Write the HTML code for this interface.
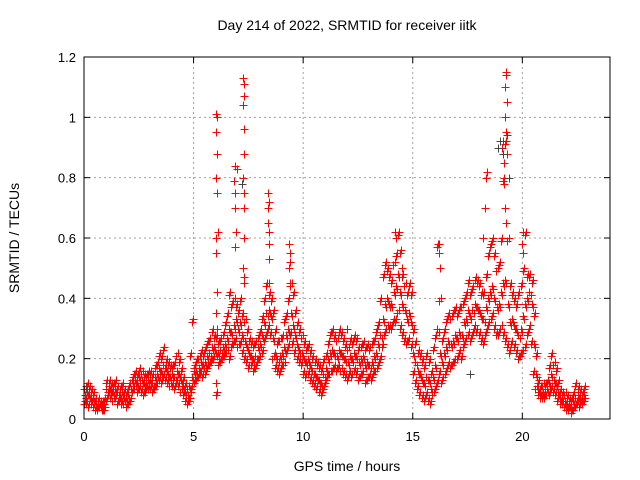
<!DOCTYPE html>
<html><head><meta charset="utf-8"><style>
body{margin:0;background:#fff;}
svg{display:block;font-family:"Liberation Sans",sans-serif;}
</style></head><body>
<svg id="chart" width="640" height="480" viewBox="0 0 640 480" xmlns="http://www.w3.org/2000/svg">
<rect width="640" height="480" fill="#fff"/>
<text x="347" y="30" font-size="14" text-anchor="middle">Day 214 of 2022, SRMTID for receiver iitk</text>
<text x="347" y="471" font-size="14" text-anchor="middle">GPS time / hours</text>
<text transform="translate(19,238) rotate(-90)" font-size="14" text-anchor="middle">SRMTID / TECUs</text>
<g id="grid"></g><g id="marks" shape-rendering="crispEdges"></g><g id="axes"></g>
</svg>
<script>
const xTicks=[0,5,10,15,20];
const yTicks=[0,0.2,0.4,0.6,0.8,1,1.2];
const yTickLabels=["0","0.2","0.4","0.6","0.8","1","1.2"];
const tStart=0, tStep=0.1;
const lo=[.05,.05,.04,.05,.04,.03,.03,.04,.03,.03,.06,.08,.07,.06,.07,.05,.06,.05,.05,.04,.05,.06,.09,.10,.09,.10,.09,.08,.09,.10,.10,.09,.10,.11,.13,.12,.14,.13,.12,.11,.11,.10,.12,.11,.09,.08,.06,.05,.06,.10,.12,.13,.14,.15,.14,.15,.17,.18,.19,.20,.08,.18,.19,.20,.21,.22,.20,.24,.25,.26,.24,.25,.22,.20,.19,.17,.18,.16,.17,.19,.20,.22,.26,.28,.30,.28,.20,.17,.16,.15,.17,.18,.22,.24,.28,.25,.22,.20,.19,.18,.15,.14,.15,.13,.12,.11,.10,.09,.08,.10,.12,.14,.15,.16,.17,.16,.17,.16,.15,.14,.13,.15,.14,.16,.15,.13,.14,.15,.12,.13,.14,.13,.15,.16,.18,.20,.24,.28,.30,.30,.30,.32,.32,.35,.30,.28,.26,.25,.26,.24,.15,.12,.10,.08,.07,.06,.08,.06,.05,.08,.10,.12,.15,.12,.14,.16,.18,.17,.18,.19,.20,.22,.20,.24,.26,.28,.26,.28,.30,.29,.28,.26,.25,.28,.30,.32,.34,.30,.28,.28,.30,.28,.26,.24,.22,.25,.24,.22,.20,.21,.22,.24,.28,.30,.25,.15,.10,.08,.07,.07,.07,.08,.08,.10,.09,.08,.06,.05,.05,.04,.03,.03,.02,.03,.04,.05,.04,.05,.06];
const mid=[.08,.09,.08,.07,.07,.05,.05,.05,.04,.05,.10,.11,.10,.09,.10,.09,.08,.09,.07,.07,.08,.10,.12,.13,.12,.14,.13,.12,.12,.13,.13,.12,.14,.15,.17,.16,.18,.17,.15,.14,.15,.14,.16,.15,.13,.11,.09,.08,.10,.14,.16,.16,.17,.19,.18,.19,.21,.22,.24,.24,.22,.22,.23,.24,.25,.27,.30,.29,.31,.33,.30,.32,.28,.26,.24,.22,.21,.20,.21,.24,.25,.28,.32,.35,.36,.34,.27,.22,.20,.21,.22,.24,.28,.30,.35,.31,.28,.25,.23,.22,.20,.19,.20,.18,.16,.15,.14,.13,.12,.15,.17,.20,.22,.23,.22,.21,.23,.22,.21,.20,.19,.21,.20,.22,.21,.19,.20,.21,.18,.19,.18,.19,.21,.22,.25,.28,.33,.38,.40,.38,.38,.42,.44,.48,.42,.38,.36,.33,.35,.32,.22,.19,.16,.15,.13,.12,.14,.13,.10,.14,.18,.30,.22,.19,.22,.24,.26,.25,.26,.28,.27,.29,.28,.32,.33,.36,.34,.36,.38,.37,.36,.34,.33,.37,.40,.42,.44,.40,.37,.38,.42,.45,.46,.38,.32,.33,.31,.30,.28,.30,.34,.38,.40,.42,.38,.25,.15,.10,.09,.09,.09,.10,.12,.15,.13,.12,.09,.07,.07,.06,.05,.05,.04,.06,.07,.08,.07,.07,.08];
const hi=[.11,.12,.11,.10,.09,.07,.07,.06,.06,.07,.13,.13,.12,.12,.13,.11,.11,.12,.10,.09,.11,.13,.15,.16,.15,.17,.16,.15,.15,.16,.16,.15,.18,.19,.22,.21,.24,.20,.19,.18,.18,.19,.22,.20,.17,.14,.12,.11,.22,.33,.18,.20,.21,.23,.22,.24,.26,.27,.30,.28,.28,.26,.27,.29,.32,.35,.42,.38,.40,.38,.36,.40,.35,.33,.30,.27,.26,.25,.26,.28,.30,.34,.40,.45,.42,.40,.36,.30,.26,.27,.28,.33,.35,.40,.45,.42,.36,.32,.30,.28,.26,.24,.25,.23,.21,.20,.19,.18,.17,.20,.22,.26,.29,.30,.28,.27,.30,.29,.27,.25,.24,.27,.26,.28,.27,.24,.25,.26,.24,.25,.24,.26,.27,.30,.32,.40,.48,.52,.50,.48,.46,.52,.55,.62,.56,.48,.45,.42,.45,.42,.30,.26,.23,.22,.20,.18,.22,.20,.16,.24,.28,.58,.40,.27,.30,.33,.35,.34,.36,.37,.35,.37,.38,.40,.42,.46,.42,.44,.47,.46,.45,.42,.42,.48,.55,.58,.60,.55,.50,.52,.60,.80,.92,.60,.45,.42,.40,.38,.42,.45,.50,.62,.48,.48,.46,.35,.22,.13,.11,.12,.12,.13,.18,.22,.19,.17,.13,.10,.09,.09,.08,.07,.07,.09,.12,.11,.10,.09,.11];
const spikeT=[6.0,6.05,6.02,6.08,6.0,6.05,6.03,6.1,6.0,6.05,6.0,6.07,6.0,6.02,6.9,6.85,6.88,6.9,6.95,6.9,7.0,7.25,7.3,7.28,7.27,7.3,7.3,7.25,7.3,7.28,7.3,7.26,7.3,7.3,8.4,8.42,8.38,8.4,8.45,8.42,8.45,8.45,9.35,9.38,9.4,9.35,9.4,14.2,14.25,14.5,16.2,16.22,16.25,18.3,18.35,18.4,18.2,19.05,19.1,19.15,19.25,19.27,19.22,19.3,19.2,19.25,19.3,19.15,19.2,19.25,20.05,20.0,20.05];
const spikeV=[1.01,1.0,0.95,0.88,0.8,0.75,0.6,0.62,0.55,0.42,0.35,0.3,0.12,0.08,0.84,0.79,0.75,0.7,0.62,0.57,0.83,1.13,1.11,1.07,1.04,0.96,0.88,0.8,0.75,0.7,0.6,0.5,0.47,0.45,0.75,0.72,0.7,0.65,0.62,0.58,0.53,0.45,0.58,0.55,0.52,0.5,0.45,0.62,0.6,0.5,0.58,0.55,0.5,0.7,0.8,0.82,0.6,0.9,0.92,0.85,1.15,1.14,1.1,1.05,1.0,0.95,0.88,0.78,0.7,0.65,0.62,0.58,0.55];
const blackT=[0.1,18.9,19.0,19.1,19.3,19.4,7.2,12.0,17.6];
const blackV=[0.1,0.9,0.92,0.88,0.94,0.8,0.78,0.3,0.15];

const L=84,R=610,T=57,B=419;
const xS=t=>L+t/24*(R-L);
const yS=v=>B-v/1.2*(B-T);
const NS="http://www.w3.org/2000/svg";
function mk(tag,attrs,parent){const e=document.createElementNS(NS,tag);for(const k in attrs)e.setAttribute(k,attrs[k]);parent.appendChild(e);return e;}
const grid=document.getElementById('grid'),marks=document.getElementById('marks'),axes=document.getElementById('axes');
xTicks.forEach((t,i)=>{const x=xS(t);
 if(t>0){const g=mk('line',{x1:x,x2:x,y1:T,y2:B,stroke:'#a0a0a0','stroke-dasharray':'2,3'},grid);
 
 }
 mk('line',{x1:x,x2:x,y1:B,y2:B-6,stroke:'#000'},axes);mk('line',{x1:x,x2:x,y1:T,y2:T+6,stroke:'#000'},axes);
 const lb=mk('text',{x:x,y:B+22,'font-size':13,'text-anchor':'middle'},axes);lb.textContent=String(t);
 
 });
yTicks.forEach((v,i)=>{const y=yS(v);
 if(v>0&&v<1.2){const g=mk('line',{x1:L,x2:R,y1:y,y2:y,stroke:'#a0a0a0','stroke-dasharray':'2,3'},grid);
 
 }
 mk('line',{x1:L,x2:L+6,y1:y,y2:y,stroke:'#000'},axes);mk('line',{x1:R,x2:R-6,y1:y,y2:y,stroke:'#000'},axes);
 const lb=mk('text',{x:L-8,y:y+5,'font-size':13,'text-anchor':'end'},axes);lb.textContent=yTickLabels[i];
 
 });
const fr=mk('rect',{x:L,y:T,width:R-L,height:B-T,fill:'none',stroke:'#000'},axes);


function plus(t,v,col,name){const x=Math.round(xS(t))+0.5,y=Math.round(yS(v))+0.5;
 const p=mk('path',{d:`M${x-4},${y}h8M${x},${y-4}v8`,stroke:col,'stroke-width':1.3,fill:'none'},marks);
 
 }
lo.forEach((v,i)=>{plus(tStart+i*tStep,v,'#f00','point-low');plus(tStart+i*tStep+0.05,v+0.01,'#f00','point-low');});
mid.forEach((v,i)=>{plus(tStart+i*tStep+0.025,v,'#f00','point-mid');plus(tStart+i*tStep+0.075,v-0.01,'#f00','point-mid');});
hi.forEach((v,i)=>{plus(tStart+i*tStep+0.07,v,'#f00','point-high');plus(tStart+i*tStep+0.02,v-0.01,'#f00','point-high');});
spikeT.forEach((t,i)=>plus(t,spikeV[i],'#f00','point-spike'));
blackT.forEach((t,i)=>plus(t,blackV[i],'#444','point-black'));
</script>
</body></html>
